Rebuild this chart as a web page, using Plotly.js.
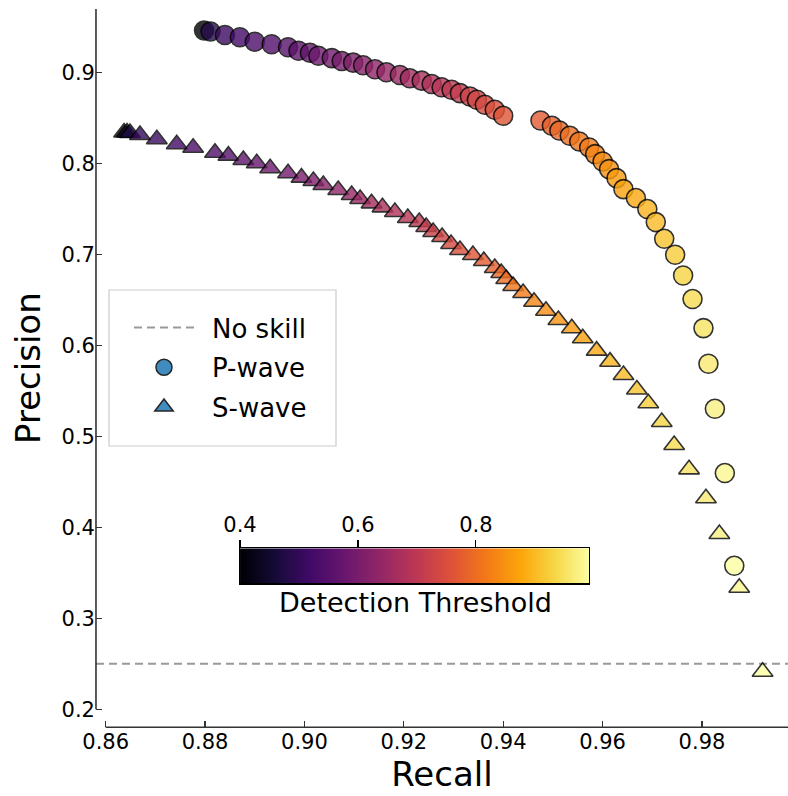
<!DOCTYPE html>
<html>
<head>
<meta charset="utf-8">
<script src="https://cdn.plot.ly/plotly-3.0.1.min.js"></script>
<style>
  html, body { margin: 0; padding: 0; background: #ffffff; }
  #chart { width: 788px; height: 796px; }
</style>
</head>
<body>
<div id="chart"></div>
<script>
// ---------------- data ----------------
const recallP = [
  0.8798, 0.8811, 0.8840, 0.8870, 0.8900, 0.8934, 0.8967, 0.8988, 0.9011, 0.9028,
  0.9055, 0.9075, 0.9098, 0.9118, 0.9142, 0.9165, 0.9192, 0.9212, 0.9236, 0.9256,
  0.9276, 0.9296, 0.9313, 0.9333, 0.9347, 0.9363, 0.9383, 0.9400,
  0.9475, 0.9498, 0.9513, 0.9534, 0.9553, 0.9573, 0.9585, 0.9600, 0.9613, 0.9628,
  0.9642, 0.9667, 0.9690, 0.9707, 0.9724, 0.9746, 0.9762, 0.9781, 0.9803, 0.9813,
  0.9826, 0.9846, 0.9865
];
const precisionP = [
  0.9459, 0.9448, 0.9410, 0.9385, 0.9336, 0.9308, 0.9275, 0.9237, 0.9215, 0.9182,
  0.9156, 0.9124, 0.9106, 0.9077, 0.9033, 0.9000, 0.8970, 0.8934, 0.8908, 0.8871,
  0.8835, 0.8808, 0.8771, 0.8734, 0.8698, 0.8643, 0.8588, 0.8522,
  0.8470, 0.8412, 0.8360, 0.8302, 0.8240, 0.8174, 0.8101, 0.8020, 0.7936, 0.7837,
  0.7716, 0.7618, 0.7497, 0.7354, 0.7170, 0.6995, 0.6767, 0.6508, 0.6189, 0.5797,
  0.5302, 0.4596, 0.3577
];
const thresholdP = [
  0.40, 0.48, 0.51, 0.52, 0.53, 0.54, 0.55, 0.56, 0.57, 0.58,
  0.59, 0.60, 0.61, 0.62, 0.63, 0.64, 0.65, 0.66, 0.67, 0.68,
  0.69, 0.70, 0.71, 0.72, 0.73, 0.74, 0.75, 0.76,
  0.77, 0.78, 0.79, 0.80, 0.81, 0.82, 0.83, 0.84, 0.85, 0.86,
  0.87, 0.88, 0.89, 0.90, 0.91, 0.92, 0.93, 0.94, 0.95, 0.96,
  0.97, 0.98, 0.99
];

const recallS = [
  0.8637, 0.8643, 0.8649, 0.8669, 0.8703, 0.8743, 0.8776, 0.8820, 0.8847, 0.8877,
  0.8904, 0.8931, 0.8967, 0.8994, 0.9018, 0.9038, 0.9068, 0.9095, 0.9112, 0.9135,
  0.9157, 0.9182, 0.9208, 0.9231, 0.9245, 0.9259, 0.9277, 0.9295, 0.9313, 0.9339,
  0.9361, 0.9383, 0.9396, 0.9406, 0.9420, 0.9440, 0.9462, 0.9486, 0.9511, 0.9538,
  0.9560, 0.9588, 0.9615, 0.9642, 0.9669, 0.9692, 0.9719, 0.9744, 0.9774, 0.9808,
  0.9835, 0.9875, 0.9922
];
const precisionS = [
  0.8338, 0.8338, 0.8333, 0.8311, 0.8264, 0.8209, 0.8171, 0.8116, 0.8084, 0.8036,
  0.8000, 0.7945, 0.7890, 0.7842, 0.7805, 0.7762, 0.7707, 0.7652, 0.7608, 0.7560,
  0.7516, 0.7465, 0.7399, 0.7355, 0.7300, 0.7245, 0.7190, 0.7113, 0.7047, 0.6992,
  0.6926, 0.6849, 0.6795, 0.6729, 0.6652, 0.6575, 0.6479, 0.6380, 0.6278, 0.6187,
  0.6077, 0.5941, 0.5820, 0.5674, 0.5514, 0.5363, 0.5157, 0.4904, 0.4637, 0.4319,
  0.3926, 0.3336, 0.2413
];
const thresholdS = [
  0.40, 0.44, 0.47, 0.50, 0.51, 0.52, 0.53, 0.54, 0.55, 0.56,
  0.57, 0.58, 0.59, 0.60, 0.61, 0.62, 0.63, 0.64, 0.65, 0.66,
  0.67, 0.68, 0.69, 0.70, 0.71, 0.72, 0.73, 0.74, 0.75, 0.76,
  0.77, 0.78, 0.79, 0.80, 0.81, 0.82, 0.83, 0.84, 0.85, 0.86,
  0.87, 0.88, 0.89, 0.90, 0.91, 0.92, 0.93, 0.94, 0.95, 0.96,
  0.97, 0.98, 0.99
];

const noSkill = 0.25;
const xTicks = [0.86, 0.88, 0.90, 0.92, 0.94, 0.96, 0.98];
const yTicks = [0.2, 0.3, 0.4, 0.5, 0.6, 0.7, 0.8, 0.9];
const cbTicks = [0.4, 0.6, 0.8];
const cbRange = [0.4, 0.992];
const xRange = [0.85805, 0.99731];
const yRange = [0.18022, 0.96956];

// ---------------- style ----------------
const inferno = [
  [0.0, '#000004'], [0.1, '#160b39'], [0.2, '#420a68'], [0.3, '#6a176e'],
  [0.4, '#932667'], [0.5, '#bc3754'], [0.6, '#dd513a'], [0.7, '#f37819'],
  [0.8, '#fca50a'], [0.9, '#f6d746'], [1.0, '#fcffa4']
];
const FONT = 'DejaVu Sans, Verdana, sans-serif';
const spineColor = '#333333';
const SP = '\u2002';

const traces = [
  {
    type: 'scatter', mode: 'lines', name: SP + 'No skill',
    x: xRange, y: [noSkill, noSkill],
    line: { color: '#999999', width: 2, dash: '8px,5px' },
    legendgroup: 'g1', hoverinfo: 'skip'
  },
  {
    type: 'scatter', mode: 'markers', name: 'P-wave data', showlegend: false,
    x: recallP, y: precisionP,
    marker: {
      symbol: 'circle', size: 19, color: thresholdP, colorscale: inferno,
      cmin: cbRange[0], cmax: cbRange[1], showscale: false, opacity: 0.8,
      line: { color: '#000000', width: 1.6 }
    }
  },
  {
    type: 'scatter', mode: 'markers', name: 'S-wave data', showlegend: false,
    x: recallS, y: precisionS,
    marker: {
      symbol: 'triangle-up', size: 18, color: thresholdS, colorscale: inferno,
      cmin: cbRange[0], cmax: cbRange[1], showscale: false, opacity: 0.8,
      line: { color: '#000000', width: 1.6 }
    }
  },
  {
    type: 'scatter', mode: 'markers', name: SP + 'P-wave', x: [null], y: [null],
    legendgroup: 'g2',
    marker: { symbol: 'circle', size: 16, color: '#1f77b4', opacity: 0.85,
      line: { color: '#000000', width: 1.5 } }
  },
  {
    type: 'scatter', mode: 'markers', name: SP + 'S-wave', x: [null], y: [null],
    legendgroup: 'g3',
    marker: { symbol: 'triangle-up', size: 16, color: '#1f77b4', opacity: 0.85,
      line: { color: '#000000', width: 1.5 } }
  },
  {
    type: 'heatmap', x: cbRange, y: [0, 1], z: [cbRange, cbRange],
    zmin: cbRange[0], zmax: cbRange[1], colorscale: inferno, zsmooth: 'best',
    showscale: false, xaxis: 'x2', yaxis: 'y2', hoverinfo: 'skip', showlegend: false
  }
];

const xDom = [0.1218, 1];
const yDom = [0.0863, 0.9887];

const layout = {
  width: 788, height: 796,
  margin: { l: 0, r: 0, t: 0, b: 0 },
  paper_bgcolor: '#ffffff', plot_bgcolor: 'rgba(0,0,0,0)',
  font: { family: FONT, color: '#000000' },
  showlegend: true,
  xaxis: {
    domain: xDom, range: xRange, tickvals: xTicks, tickformat: '.2f',
    ticks: 'inside', ticklen: 6, tickwidth: 1.3, tickcolor: spineColor,
    showgrid: false, zeroline: false, showline: false, automargin: false,
    tickfont: { size: 21, family: FONT, color: '#000' },
    title: { text: 'Recall', font: { size: 34, family: FONT, color: '#000' }, standoff: 8 }
  },
  yaxis: {
    domain: yDom, range: yRange, tickvals: yTicks, tickformat: '.1f',
    ticks: 'inside', ticklen: 6, tickwidth: 1.3, tickcolor: spineColor,
    showgrid: false, zeroline: false, showline: false, automargin: false,
    tickfont: { size: 21, family: FONT, color: '#000' },
    title: { text: 'Precision', font: { size: 34, family: FONT, color: '#000' }, standoff: 10 }
  },
  xaxis2: {
    domain: [0.3046, 0.7475], anchor: 'y2', side: 'top', range: cbRange,
    tickvals: cbTicks, tickformat: '.1f', ticks: 'outside', ticklen: 7,
    tickwidth: 1.3, tickcolor: '#000',
    showline: true, mirror: true, linecolor: '#000', linewidth: 1.2,
    showgrid: false, zeroline: false, fixedrange: true,
    tickfont: { size: 21, family: FONT, color: '#000' }
  },
  yaxis2: {
    domain: [0.2672, 0.3112], anchor: 'x2', range: [0, 1],
    showticklabels: false, ticks: '',
    showline: true, mirror: true, linecolor: '#000', linewidth: 1.2,
    showgrid: false, zeroline: false, fixedrange: true
  },
  legend: {
    x: 0.1637, y: 0.618, xanchor: 'left', yanchor: 'top',
    bgcolor: 'rgba(0,0,0,0)', borderwidth: 0,
    font: { size: 26, family: FONT, color: '#000' },
    traceorder: 'grouped', tracegroupgap: 3, itemwidth: 60
  },
  shapes: [
    { type: 'rect', xref: 'paper', yref: 'paper', x0: 0.1383, x1: 0.4264, y0: 0.4397, y1: 0.6357,
      line: { color: '#cccccc', width: 1.2 }, fillcolor: 'rgba(255,255,255,0.8)', layer: 'above' },
    { type: 'line', xref: 'paper', yref: 'y', x0: xDom[0], x1: xDom[0], y0: yTicks[0], y1: yRange[1],
      line: { color: spineColor, width: 1.6 }, layer: 'above' },
    { type: 'line', xref: 'x', yref: 'paper', x0: xTicks[0], x1: xRange[1], y0: yDom[0], y1: yDom[0],
      line: { color: spineColor, width: 1.6 }, layer: 'above' }
  ],
  annotations: [
    { xref: 'paper', yref: 'paper', x: 0.527, y: 0.2425, xanchor: 'center', yanchor: 'middle',
      text: 'Detection Threshold', showarrow: false,
      font: { size: 27, family: FONT, color: '#000' } }
  ]
};

Plotly.newPlot('chart', traces, layout, { displayModeBar: false, staticPlot: true });
</script>
</body>
</html>
